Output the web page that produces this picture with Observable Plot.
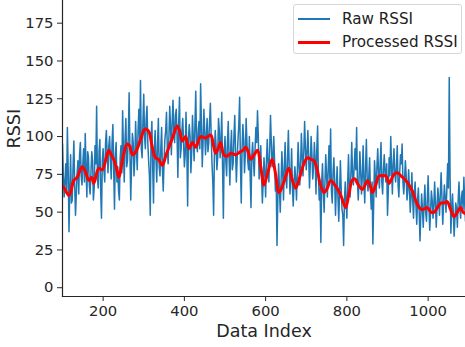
<!DOCTYPE html>
<html>
<head>
<meta charset="utf-8">
<script src="https://cdn.jsdelivr.net/npm/d3@7"></script>
<script src="https://cdn.jsdelivr.net/npm/@observablehq/plot@0.6"></script>
<style>
  html, body { margin: 0; padding: 0; background: #fff; }
  #wrap { position: relative; width: 465px; height: 347px; font-family: "DejaVu Sans", sans-serif; }
  #legend { position: absolute; left: 293px; top: 4px; width: 169px; height: 50px;
    border: 1px solid #d6d6d6; border-radius: 3px; background: rgba(255,255,255,0.85); box-sizing: border-box; }
  .item { position: absolute; left: 0; height: 20px; display: flex; align-items: center; }
  .swatch { position: absolute; left: 4px; width: 32px; }
  .lbl { position: absolute; left: 48px; font-size: 15.2px; color: #222; white-space: nowrap; }
</style>
</head>
<body>
<div id="wrap">
  <div id="chart"></div>
  <div id="legend"></div>
</div>
<script>
// ---- data ----
// raw samples at indices 100, 104, 108, ...
const rawStart = 100;
const rawStep = 4;
const rawValues = [
  95, 60, 82, 106, 37, 88, 58, 97, 48, 76,
  62, 96, 68, 92, 102, 60, 86, 62, 90, 58,
  94, 120, 66, 98, 46, 92, 70, 104, 76, 100,
  72, 108, 52, 96, 80, 58, 94, 117, 70, 112,
  84, 129, 58, 102, 74, 110, 78, 118, 137, 86,
  128, 92, 120, 84, 48, 110, 56, 104, 70, 112,
  74, 106, 64, 98, 116, 82, 120, 88, 124, 96,
  118, 73, 126, 92, 112, 80, 116, 54, 108, 76,
  114, 84, 130, 90, 110, 135, 80, 118, 88, 112,
  96, 122, 82, 48, 104, 78, 112, 86, 116, 46,
  100, 74, 110, 68, 104, 82, 114, 70, 98, 126,
  56, 108, 76, 112, 84, 100, 53, 96, 74, 106,
  117, 72, 94, 56, 86, 60, 98, 70, 114, 80,
  100, 64, 28, 82, 50, 90, 58, 96, 66, 104,
  62, 92, 54, 80, 58, 96, 68, 102, 74, 110,
  78, 104, 66, 100, 72, 96, 62, 107, 58, 30,
  82, 50, 88, 60, 94, 105, 56, 86, 48, 80,
  44, 84, 52, 28, 70, 46, 88, 60, 96, 68,
  92, 106, 58, 90, 62, 94, 56, 98, 64, 86,
  52, 29, 84, 60, 92, 66, 96, 62, 88, 70,
  48, 86, 100, 62, 92, 70, 94, 60, 88, 95,
  62, 84, 58, 78, 50, 76, 46, 70, 42, 66,
  31, 62, 40, 68, 44, 74, 38, 64, 46, 70,
  40, 66, 48, 76, 42, 68, 50, 82, 139, 36,
  62, 34, 56, 40, 70, 46, 64, 73, 44
];
// raw samples in between, at indices 102, 106, 110, ...
const rawMidValues = [
  74, 70, 64, 78, 66, 56, 80, 68, 62, 84,
  88, 74, 82, 70, 78, 90, 68, 76, 84, 66,
  82, 72, 90, 64, 84, 78, 96, 88, 94, 84,
  96, 78, 88, 70, 64, 86, 76, 90, 98, 80,
  100, 90, 82, 96, 86, 92, 104, 98, 92, 110,
  100, 112, 96, 74, 98, 80, 92, 86, 96, 80,
  92, 78, 84, 104, 92, 100, 106, 110, 104, 114,
  100, 108, 86, 104, 96, 88, 92, 98, 100, 90,
  98, 108, 96, 104, 92, 108, 96, 104, 100, 90,
  110, 100, 70, 90, 94, 86, 104, 96, 80, 90,
  84, 96, 86, 92, 78, 100, 90, 86, 108, 82,
  92, 98, 88, 96, 78, 74, 88, 84, 92, 96,
  100, 82, 74, 70, 76, 84, 82, 92, 96, 86,
  84, 72, 58, 66, 70, 76, 80, 72, 86, 80,
  74, 66, 70, 72, 76, 82, 80, 88, 90, 92,
  90, 86, 82, 88, 80, 84, 92, 72, 66, 70,
  64, 70, 74, 78, 72, 64, 76, 70, 66, 60,
  62, 66, 48, 58, 56, 70, 66, 76, 74, 80,
  78, 70, 72, 76, 74, 70, 80, 72, 74, 64,
  70, 56, 74, 80, 76, 82, 70, 78, 76, 82,
  64, 74, 80, 82, 76, 80, 68, 76, 82, 70,
  72, 74, 64, 66, 60, 58, 62, 54, 58, 50,
  48, 52, 56, 50, 58, 54, 50, 58, 54, 56,
  54, 58, 62, 60, 56, 60, 64, 66, 74, 52,
  50, 46, 52, 58, 54, 60, 52, 56
];
const procIndex = [100,103,116,128,136,148,156,165,172,177,189,198,206,214,220,226,232,239,246,252,259,265,272,278,284,292,300,304,313,320,329,336,346,355,362,372,382,388,395,403,411,420,428,440,452,465,471,477,483,489,497,505,514,526,538,545,551,557,563,572,580,588,596,605,616,624,633,645,657,665,674,685,694,703,711,719,727,735,744,752,760,770,780,788,797,805,813,820,826,838,845,851,857,863,871,879,888,896,904,910,916,925,933,945,953,961,972,982,990,998,1007,1015,1023,1031,1039,1047,1055,1064,1072,1080,1086,1093];
const procValues = [67,66.5,61,71,73,80,77,71,73,69,79,78,84,91,88,85,80,73,82,90,95,94,88,89,92,98,104,105,103,94,86,85,81,88,93,100,107,104,97,100,92,96,93,100,99,101,95,89,92,96,88,87,89,88,90,91,93,90,85,88,91,80,68,76,85,76,63,70,79,72,66,74,82,86,85,84,78,68,63,66,71,68,64,59,53,62,71,72,69,65,68,71,68,63,68,74,74,74,69,72,75,76,74,71,68,64,56,52,52,53,50,50,53,56,56,57,52,47,50,53,50,49];
const xTicks = [200, 400, 600, 800, 1000];
const yTicks = [0, 25, 50, 75, 100, 125, 150, 175];
const seriesNames = ["Raw RSSI", "Processed RSSI"];
const seriesColors = ["#1f77b4", "#ff0000"];

// ---- tables ----
const raw = [];
rawValues.forEach((v, i) => {
  raw.push({index: rawStart + i * rawStep, rssi: v});
  if (i < rawMidValues.length) raw.push({index: rawStart + i * rawStep + rawStep / 2, rssi: rawMidValues[i]});
});
const proc = procIndex.map((x, i) => ({index: x, rssi: procValues[i]}));

const ink = "#262626";
const chart = Plot.plot({
  width: 465,
  height: 347,
  marginLeft: 62,
  marginRight: 0,
  marginTop: 0,
  marginBottom: 51,
  style: {fontFamily: "DejaVu Sans, sans-serif", fontSize: "14.8px", color: ink, background: "white"},
  x: {domain: [100, 1092]},
  y: {domain: [-5.8, 190]},
  marks: [
    Plot.lineY(raw, {x: "index", y: "rssi", stroke: seriesColors[0], strokeWidth: 1.5, clip: true}),
    Plot.lineY(proc, {x: "index", y: "rssi", stroke: seriesColors[1], strokeWidth: 3, curve: "catmull-rom", clip: true}),
    Plot.axisX({ticks: xTicks, tickFormat: d => String(d), tickSize: 5, tickPadding: 4, label: null, stroke: ink}),
    Plot.axisY({ticks: yTicks, tickFormat: d => String(d), tickSize: 5, tickPadding: 4, label: null, stroke: ink}),
    Plot.frame({anchor: "left", stroke: ink, strokeWidth: 1.2}),
    Plot.frame({anchor: "bottom", stroke: ink, strokeWidth: 1.2}),
    Plot.text(["Data Index"], {frameAnchor: "bottom", dy: 40, lineAnchor: "bottom", fontSize: 17.5, fill: ink}),
    Plot.text(["RSSI"], {frameAnchor: "left", dx: -48, rotate: -90, fontSize: 17.5, fill: ink})
  ]
});
document.getElementById("chart").appendChild(chart);

// legend
const leg = document.getElementById("legend");
seriesNames.forEach((name, i) => {
  const item = document.createElement("div");
  item.className = "item";
  item.style.top = (4 + i * 23) + "px";
  const sw = document.createElement("div");
  sw.className = "swatch";
  sw.style.borderTop = (i === 0 ? 2 : 3) + "px solid " + seriesColors[i];
  const lb = document.createElement("div");
  lb.className = "lbl";
  lb.textContent = name;
  item.appendChild(sw);
  item.appendChild(lb);
  leg.appendChild(item);
});
</script>
</body>
</html>
